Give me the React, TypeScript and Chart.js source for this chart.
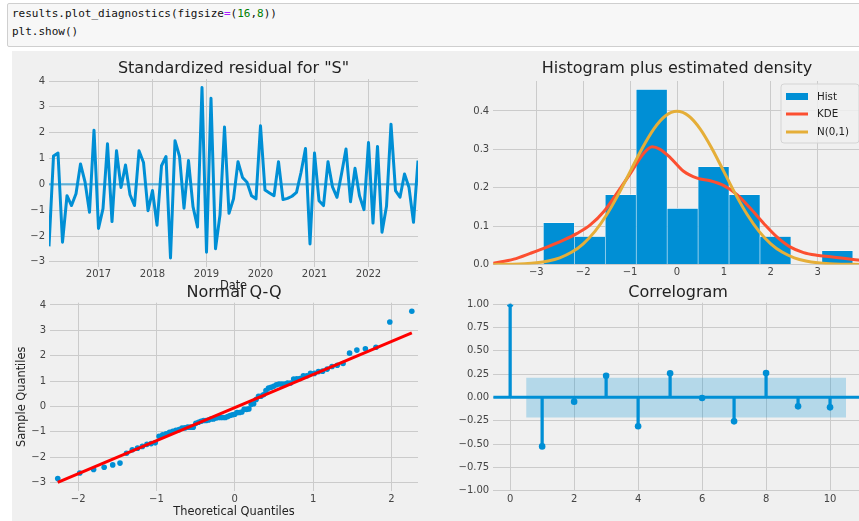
import React, { useEffect, useRef } from 'react';
import { Chart, registerables } from 'chart.js';

Chart.register(...registerables);

// ---------------- data ----------------
const startYear = 2016;
const startMonth = 2; // first observation: Feb 2016, monthly

const residuals = [
  -2.40, 1.10, 1.21, -2.24, -0.44, -0.82, -0.36, 0.79, 0.10, -1.08,
  2.10, -1.71, -0.94, 1.57, -1.44, 1.30, -0.12, 0.75, -0.40, -0.82,
  1.30, 0.85, -1.02, -0.24, -1.58, 0.72, 1.08, -2.85, 1.69, 1.09,
  -0.92, 0.92, -0.86, -1.65, 3.75, -2.63, 3.33, -2.49, -1.18, 2.22,
  -1.12, -0.56, 0.88, 0.27, 0.08, -0.44, -0.56, 2.27, -0.22, -0.33,
  -0.44, 0.88, -0.59, -0.54, -0.46, -0.31, 0.46, 1.39, -2.31, 1.21,
  -0.63, -0.82, 0.88, -0.10, -0.50, 0.40, 1.37, -0.67, 0.62, -0.44,
  -0.98, 1.62, -1.50, 1.47, -1.85, -0.85, 2.33, -0.24, -0.50, 0.40,
  -0.12, -1.47, 0.92,
];

const histEdges = [-2.85, -2.19, -1.53, -0.87, -0.21, 0.45, 1.11, 1.77, 2.43, 3.09, 3.75];
const histDensity = [0.109, 0.073, 0.182, 0.456, 0.146, 0.255, 0.182, 0.073, 0, 0.036];

const kdeX = [-3.92, -3.48, -3.13, -2.8, -2.41, -2.13, -1.85, -1.56, -1.28, -0.99, -0.71, -0.53, -0.36, -0.14,
  0.14, 0.43, 0.71, 0.99, 1.28, 1.56, 1.85, 2.13, 2.41, 2.7, 2.98, 3.27, 3.55, 3.92];
const kdeY = [0.003, 0.014, 0.029, 0.044, 0.064, 0.081, 0.103, 0.138, 0.186, 0.238, 0.290, 0.307, 0.300, 0.278,
  0.243, 0.225, 0.218, 0.206, 0.182, 0.147, 0.107, 0.072, 0.046, 0.031, 0.024, 0.020, 0.016, 0.011];

const normX = [-3.92, -3.5, -3.25, -3, -2.75, -2.5, -2.25, -2, -1.75, -1.5, -1.25, -1, -0.75, -0.5, -0.25, 0,
  0.25, 0.5, 0.75, 1, 1.25, 1.5, 1.75, 2, 2.25, 2.5, 2.75, 3, 3.25, 3.5, 3.92];
const normY = [0.0002, 0.0009, 0.0020, 0.0044, 0.0091, 0.0175, 0.0317, 0.0540, 0.0863, 0.1295, 0.1826, 0.2420,
  0.3011, 0.3521, 0.3867, 0.3989, 0.3867, 0.3521, 0.3011, 0.2420, 0.1826, 0.1295, 0.0863, 0.0540, 0.0317,
  0.0175, 0.0091, 0.0044, 0.0020, 0.0009, 0.0002];

const theoQuantiles = [
  -2.261, -1.980, -1.803, -1.668, -1.559, -1.466, -1.383, -1.309, -1.242, -1.180,
  -1.122, -1.068, -1.016, -0.967, -0.921, -0.876, -0.833, -0.792, -0.752, -0.712,
  -0.674, -0.637, -0.601, -0.566, -0.531, -0.497, -0.463, -0.431, -0.398, -0.366,
  -0.334, -0.303, -0.272, -0.241, -0.210, -0.180, -0.150, -0.120, -0.090, -0.060,
  -0.030, 0.000, 0.030, 0.060, 0.090, 0.120, 0.150, 0.180, 0.210, 0.241,
  0.272, 0.303, 0.334, 0.366, 0.398, 0.431, 0.463, 0.497, 0.531, 0.566,
  0.601, 0.637, 0.674, 0.712, 0.752, 0.792, 0.833, 0.876, 0.921, 0.967,
  1.016, 1.068, 1.122, 1.180, 1.242, 1.309, 1.383, 1.466, 1.559, 1.668,
  1.803, 1.980, 2.261,
];
const qqLineX = [-2.261, 2.261];
const qqLineY = [-3.0, 2.9];

const acfLags = [0, 1, 2, 3, 4, 5, 6, 7, 8, 9, 10];
const acfValues = [1.0, -0.525, -0.046, 0.232, -0.31, 0.257, -0.007, -0.257, 0.26, -0.096, -0.107];
const confX = [0.5, 10.5];
const confUpper = [0.21, 0.21];
const confLower = [-0.215, -0.215];

// ---------------- style ----------------
const FONT = '"DejaVu Sans", sans-serif';
const BLUE = '#008fd5';
const RED = '#fc4f30';
const ORANGE = '#e5ae38';
const GRID = '#cbcbcb';
const TICK = '#444444';
const TEXT = '#222222';

const minus = (s: string) => s.replace('-', '\u2212');
const fmt = (d: number) => (v: any) => {
  const n = Number(v);
  const s = (Math.abs(n) < 1e-9 ? 0 : n).toFixed(d);
  return minus(s);
};

function axis(o: any) {
  return {
    type: 'linear',
    min: o.min,
    max: o.max,
    offset: false,
    ticks: {
      stepSize: o.step,
      includeBounds: false,
      autoSkip: false,
      maxRotation: 0,
      minRotation: 0,
      padding: o.isX ? 2 : 4,
      color: TICK,
      font: { family: FONT, size: 10 },
      callback: o.fmt,
    },
    grid: { color: GRID, lineWidth: 1, drawTicks: false, offset: false },
    border: { display: false },
    afterFit: (s: any) => {
      if (o.isX) s.height = o.size;
      else s.width = o.size;
    },
  };
}

const subText = {
  id: 'subText',
  afterDraw(chart: any, _a: any, opts: any) {
    const { ctx, chartArea: a } = chart;
    const cx = (a.left + a.right) / 2;
    ctx.save();
    ctx.fillStyle = TEXT;
    ctx.textAlign = 'center';
    ctx.textBaseline = 'middle';
    if (opts.xlabel) {
      ctx.font = `11.4px ${FONT}`;
      ctx.fillText(opts.xlabel, cx, a.bottom + opts.xlabelDy);
    }
    if (opts.ylabel) {
      ctx.save();
      ctx.font = `11.4px ${FONT}`;
      ctx.translate(a.left + opts.ylabelDx, (a.top + a.bottom) / 2);
      ctx.rotate(-Math.PI / 2);
      ctx.fillText(opts.ylabel, 0, 0);
      ctx.restore();
    }
    if (opts.title) {
      ctx.font = `16px ${FONT}`;
      ctx.fillStyle = TEXT;
      ctx.fillText(opts.title, cx, a.top + opts.titleDy);
    }
    if (opts.legend) {
      const bx = a.right - opts.legend.dxRight;
      const by = a.top + opts.legend.dyTop;
      const bw = opts.legend.w;
      const bh = opts.legend.h;
      const r = 3;
      ctx.beginPath();
      ctx.moveTo(bx + r, by);
      ctx.lineTo(bx + bw - r, by);
      ctx.arcTo(bx + bw, by, bx + bw, by + r, r);
      ctx.lineTo(bx + bw, by + bh - r);
      ctx.arcTo(bx + bw, by + bh, bx + bw - r, by + bh, r);
      ctx.lineTo(bx + r, by + bh);
      ctx.arcTo(bx, by + bh, bx, by + bh - r, r);
      ctx.lineTo(bx, by + r);
      ctx.arcTo(bx, by, bx + r, by, r);
      ctx.closePath();
      ctx.fillStyle = 'rgba(240,240,240,0.85)';
      ctx.fill();
      ctx.strokeStyle = '#d4d4d4';
      ctx.lineWidth = 1;
      ctx.stroke();
      const rows = [12.5, 30, 48];
      opts.legend.items.forEach((it: any, i: number) => {
        const y = by + rows[i];
        if (it.kind === 'patch') {
          ctx.fillStyle = it.color;
          ctx.fillRect(bx + 5, y - 3.5, 22, 7);
        } else {
          ctx.strokeStyle = it.color;
          ctx.lineWidth = 3;
          ctx.beginPath();
          ctx.moveTo(bx + 5, y);
          ctx.lineTo(bx + 27, y);
          ctx.stroke();
        }
        ctx.fillStyle = TEXT;
        ctx.textAlign = 'left';
        ctx.font = `10.3px ${FONT}`;
        ctx.fillText(it.label, bx + 36, y + 0.5);
      });
    }
    ctx.restore();
  },
};

function baseOptions(pad: any, scales: any, text: any) {
  return {
    responsive: false,
    maintainAspectRatio: false,
    animation: false,
    devicePixelRatio: 1,
    events: [],
    layout: { padding: pad },
    plugins: { legend: { display: false }, tooltip: { enabled: false }, title: { display: false }, subText: text },
    scales,
  };
}

// ---------------- chart configs ----------------
function residualConfig() {
  const xs = residuals.map((_, i) => startYear + (startMonth - 1 + i) / 12);
  const pts = residuals.map((v, i) => ({ x: xs[i], y: v }));
  return {
    type: 'line',
    data: {
      datasets: [
        {
          data: [{ x: xs[0], y: 0 }, { x: xs[xs.length - 1], y: 0 }],
          borderColor: 'rgba(0,143,213,0.5)',
          borderWidth: 2.5,
          pointRadius: 0,
          order: 0,
        },
        {
          data: pts,
          borderColor: BLUE,
          borderWidth: 3,
          borderJoinStyle: 'round',
          pointRadius: 0,
          tension: 0,
          order: 1,
        },
      ],
    },
    options: baseOptions(
      { left: 0, top: 24, right: 12, bottom: 0 },
      {
        x: axis({ min: xs[0], max: xs[xs.length - 1], step: 1, fmt: (v: any) => String(Math.round(v)), isX: true, size: 33.5 }),
        y: axis({ min: -3.18, max: 4.08, step: 1, fmt: fmt(0), size: 49 }),
      },
      { title: 'Standardized residual for "S"', titleDy: -10, xlabel: 'Date', xlabelDy: 20 }
    ),
    plugins: [subText],
  };
}

function histConfig() {
  const bars = histDensity.map((d, i) => ({ x: (histEdges[i] + histEdges[i + 1]) / 2, y: d }));
  return {
    type: 'bar',
    data: {
      datasets: [
        {
          type: 'line',
          data: normX.map((x, i) => ({ x, y: normY[i] })),
          borderColor: ORANGE,
          borderWidth: 3,
          pointRadius: 0,
          cubicInterpolationMode: 'monotone',
          order: 1,
        },
        {
          type: 'line',
          data: kdeX.map((x, i) => ({ x, y: kdeY[i] })),
          borderColor: RED,
          borderWidth: 3,
          pointRadius: 0,
          cubicInterpolationMode: 'monotone',
          order: 2,
        },
        {
          type: 'bar',
          data: bars,
          backgroundColor: BLUE,
          borderColor: 'rgba(255,255,255,0.75)',
          borderWidth: { left: 0.6, right: 0.6, top: 0.6, bottom: 0 },
          borderSkipped: false,
          barPercentage: 1,
          categoryPercentage: 1,
          order: 3,
        },
      ],
    },
    options: baseOptions(
      { left: 0, top: 26, right: 9.2, bottom: 0 },
      {
        x: axis({ min: -3.92, max: 3.92, step: 1, fmt: fmt(0), isX: true, size: 35.5 }),
        y: axis({ min: 0, max: 0.478, step: 0.1, fmt: fmt(1), size: 63.2 }),
      },
      {
        title: 'Histogram plus estimated density',
        titleDy: -12,
        legend: {
          dxRight: 79.8,
          dyTop: 3,
          w: 78,
          h: 59,
          items: [
            { kind: 'patch', color: BLUE, label: 'Hist' },
            { kind: 'line', color: RED, label: 'KDE' },
            { kind: 'line', color: ORANGE, label: 'N(0,1)' },
          ],
        },
      }
    ),
    plugins: [subText],
  };
}

function qqConfig() {
  const sample = [...residuals].sort((a, b) => a - b);
  return {
    type: 'line',
    data: {
      datasets: [
        {
          data: qqLineX.map((x, i) => ({ x, y: qqLineY[i] })),
          borderColor: '#ff0000',
          borderWidth: 3,
          pointRadius: 0,
          order: 0,
        },
        {
          data: theoQuantiles.map((x, i) => ({ x, y: sample[i] })),
          showLine: false,
          pointRadius: 2.8,
          pointBackgroundColor: BLUE,
          pointBorderWidth: 0,
          borderColor: BLUE,
          order: 1,
        },
      ],
    },
    options: baseOptions(
      { left: 0, top: 22.7, right: 12, bottom: 0 },
      {
        x: axis({ min: -2.36, max: 2.34, step: 1, fmt: fmt(0), isX: true, size: 30 }),
        y: axis({ min: -3.34, max: 4.09, step: 1, fmt: fmt(0), size: 50 }),
      },
      { title: 'Normal Q-Q', titleDy: -9.7, xlabel: 'Theoretical Quantiles', xlabelDy: 21, ylabel: 'Sample Quantiles', ylabelDx: -27.5 }
    ),
    plugins: [subText],
  };
}

function acfConfig() {
  const xMin = -0.53;
  const xMax = 11.03;
  return {
    type: 'bar',
    data: {
      datasets: [
        {
          type: 'line',
          data: acfLags.map((l, i) => ({ x: l, y: acfValues[i] })),
          showLine: false,
          pointRadius: 3.3,
          pointBackgroundColor: BLUE,
          pointBorderWidth: 0,
          borderColor: BLUE,
          clip: { left: 6, right: 6, top: -2, bottom: 6 },
          order: 0,
        },
        {
          type: 'bar',
          data: acfLags.map((l, i) => ({ x: l, y: [0, acfValues[i]] })),
          backgroundColor: BLUE,
          borderWidth: 0,
          barThickness: 2.6,
          order: 1,
        },
        {
          type: 'line',
          data: [{ x: xMin, y: 0 }, { x: xMax, y: 0 }],
          borderColor: BLUE,
          borderWidth: 3,
          pointRadius: 0,
          order: 2,
        },
        {
          type: 'line',
          data: confX.map((x, i) => ({ x, y: confUpper[i] })),
          borderWidth: 0,
          borderColor: 'rgba(0,0,0,0)',
          pointRadius: 0,
          fill: '+1',
          backgroundColor: 'rgba(0,143,213,0.25)',
          order: 3,
        },
        {
          type: 'line',
          data: confX.map((x, i) => ({ x, y: confLower[i] })),
          borderWidth: 0,
          borderColor: 'rgba(0,0,0,0)',
          pointRadius: 0,
          fill: false,
          order: 4,
        },
      ],
    },
    options: baseOptions(
      { left: 0, top: 22.7, right: 7, bottom: 0 },
      {
        x: axis({ min: xMin, max: xMax, step: 2, fmt: fmt(0), isX: true, size: 30 }),
        y: axis({ min: -1.003, max: 1.014, step: 0.25, fmt: fmt(2), size: 63.2 }),
      },
      { title: 'Correlogram', titleDy: -10 }
    ),
    plugins: [subText],
  };
}

// ---------------- components ----------------
function Plot(props: any) {
  const ref = useRef<HTMLCanvasElement | null>(null);
  useEffect(() => {
    const chart = new Chart(ref.current as any, props.make() as any);
    return () => chart.destroy();
  }, []);
  return (
    <canvas
      ref={ref}
      width={props.width}
      height={props.height}
      style={{ position: 'absolute', left: props.left, top: props.top, width: props.width, height: props.height }}
    />
  );
}

export default function App() {
  return (
    <div style={{ position: 'fixed', left: 0, top: 0, width: 859, height: 521, overflow: 'hidden', background: '#ffffff' }}>
      <div
        style={{
          position: 'absolute',
          left: 7,
          top: 3,
          width: 880,
          height: 44,
          boxSizing: 'border-box',
          border: '1px solid #cfcfcf',
          borderRadius: 2,
          background: '#f7f7f7',
        }}
      >
        <pre
          style={{
            position: 'absolute',
            left: 4,
            top: 1,
            margin: 0,
            font: '11px/18px "DejaVu Sans Mono", monospace',
            color: '#111',
          }}
        >
          {'results.plot_diagnostics(figsize'}
          <span style={{ color: '#aa22ff' }}>=</span>
          {'('}
          <span style={{ color: '#008000' }}>16</span>
          {','}
          <span style={{ color: '#008000' }}>8</span>
          {'))\nplt.show()'}
        </pre>
      </div>
      <div style={{ position: 'absolute', left: 12, top: 51, width: 880, height: 480, background: '#f0f0f0' }} />
      <Plot left={0} top={55} width={430} height={245} make={residualConfig} />
      <Plot left={430} top={55} width={440} height={245} make={histConfig} />
      <Plot left={0} top={280} width={430} height={241} make={qqConfig} />
      <Plot left={430} top={280} width={440} height={241} make={acfConfig} />
    </div>
  );
}
